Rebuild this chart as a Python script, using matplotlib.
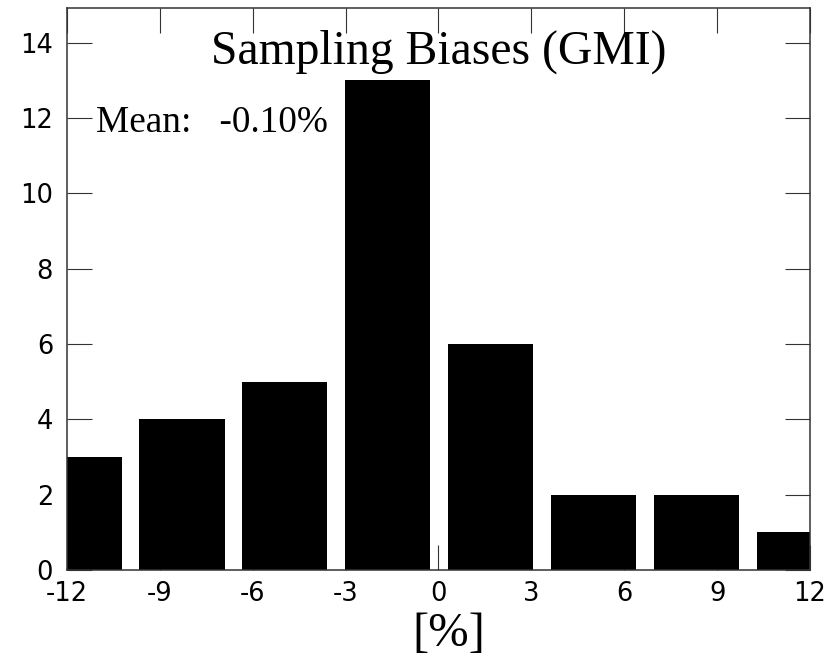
import matplotlib
matplotlib.use("Agg")
from matplotlib import pyplot as plt

plt.rcParams['axes.unicode_minus'] = False

# histogram bins
bin_centers = [-11.61, -8.285, -4.96, -1.635, 1.69, 5.015, 8.34, 11.665]
counts = [3, 4, 5, 13, 6, 2, 2, 1]
bin_width = 3.325
bar_frac = 0.826

xticks = [-12, -9, -6, -3, 0, 3, 6, 9, 12]
yticks = [0, 2, 4, 6, 8, 10, 12, 14]

title = 'Sampling Biases (GMI)'
mean_text = 'Mean:   -0.10%'
xlabel = '[%]'

fig = plt.figure(figsize=(8.33, 6.58), dpi=100)
ax = fig.add_axes([0.0804, 0.1337, 0.8920, 0.8549])

ax.bar(bin_centers, counts, width=bin_width * bar_frac, color='black',
       edgecolor='none', zorder=2)
ax.set_axisbelow(True)

ax.set_xlim(-12, 12)
ax.set_ylim(0, 14.93)
ax.set_xticks(xticks)
ax.set_yticks(yticks)
ax.tick_params(direction='in', length=18, width=0.8, top=True, right=True,
               labelsize=18.5, color='#333333')
ax.tick_params(axis='x', pad=8)
ax.tick_params(axis='y', pad=10)
for s in ax.spines.values():
    s.set_linewidth(1.1)
    s.set_color('#333333')

ax.text(0.5, 0.8996, title, transform=ax.transAxes, ha='center', va='baseline',
        fontsize=34.3, family='Liberation Serif')
ax.text(0.0394, 0.779, mean_text, transform=ax.transAxes, ha='left', va='baseline',
        fontsize=26.8, family='Liberation Serif')
fig.text(0.539, 0.036, xlabel, ha='center', va='center', fontsize=35,
         family='Liberation Serif')

fig.savefig('out.png', dpi=100)
